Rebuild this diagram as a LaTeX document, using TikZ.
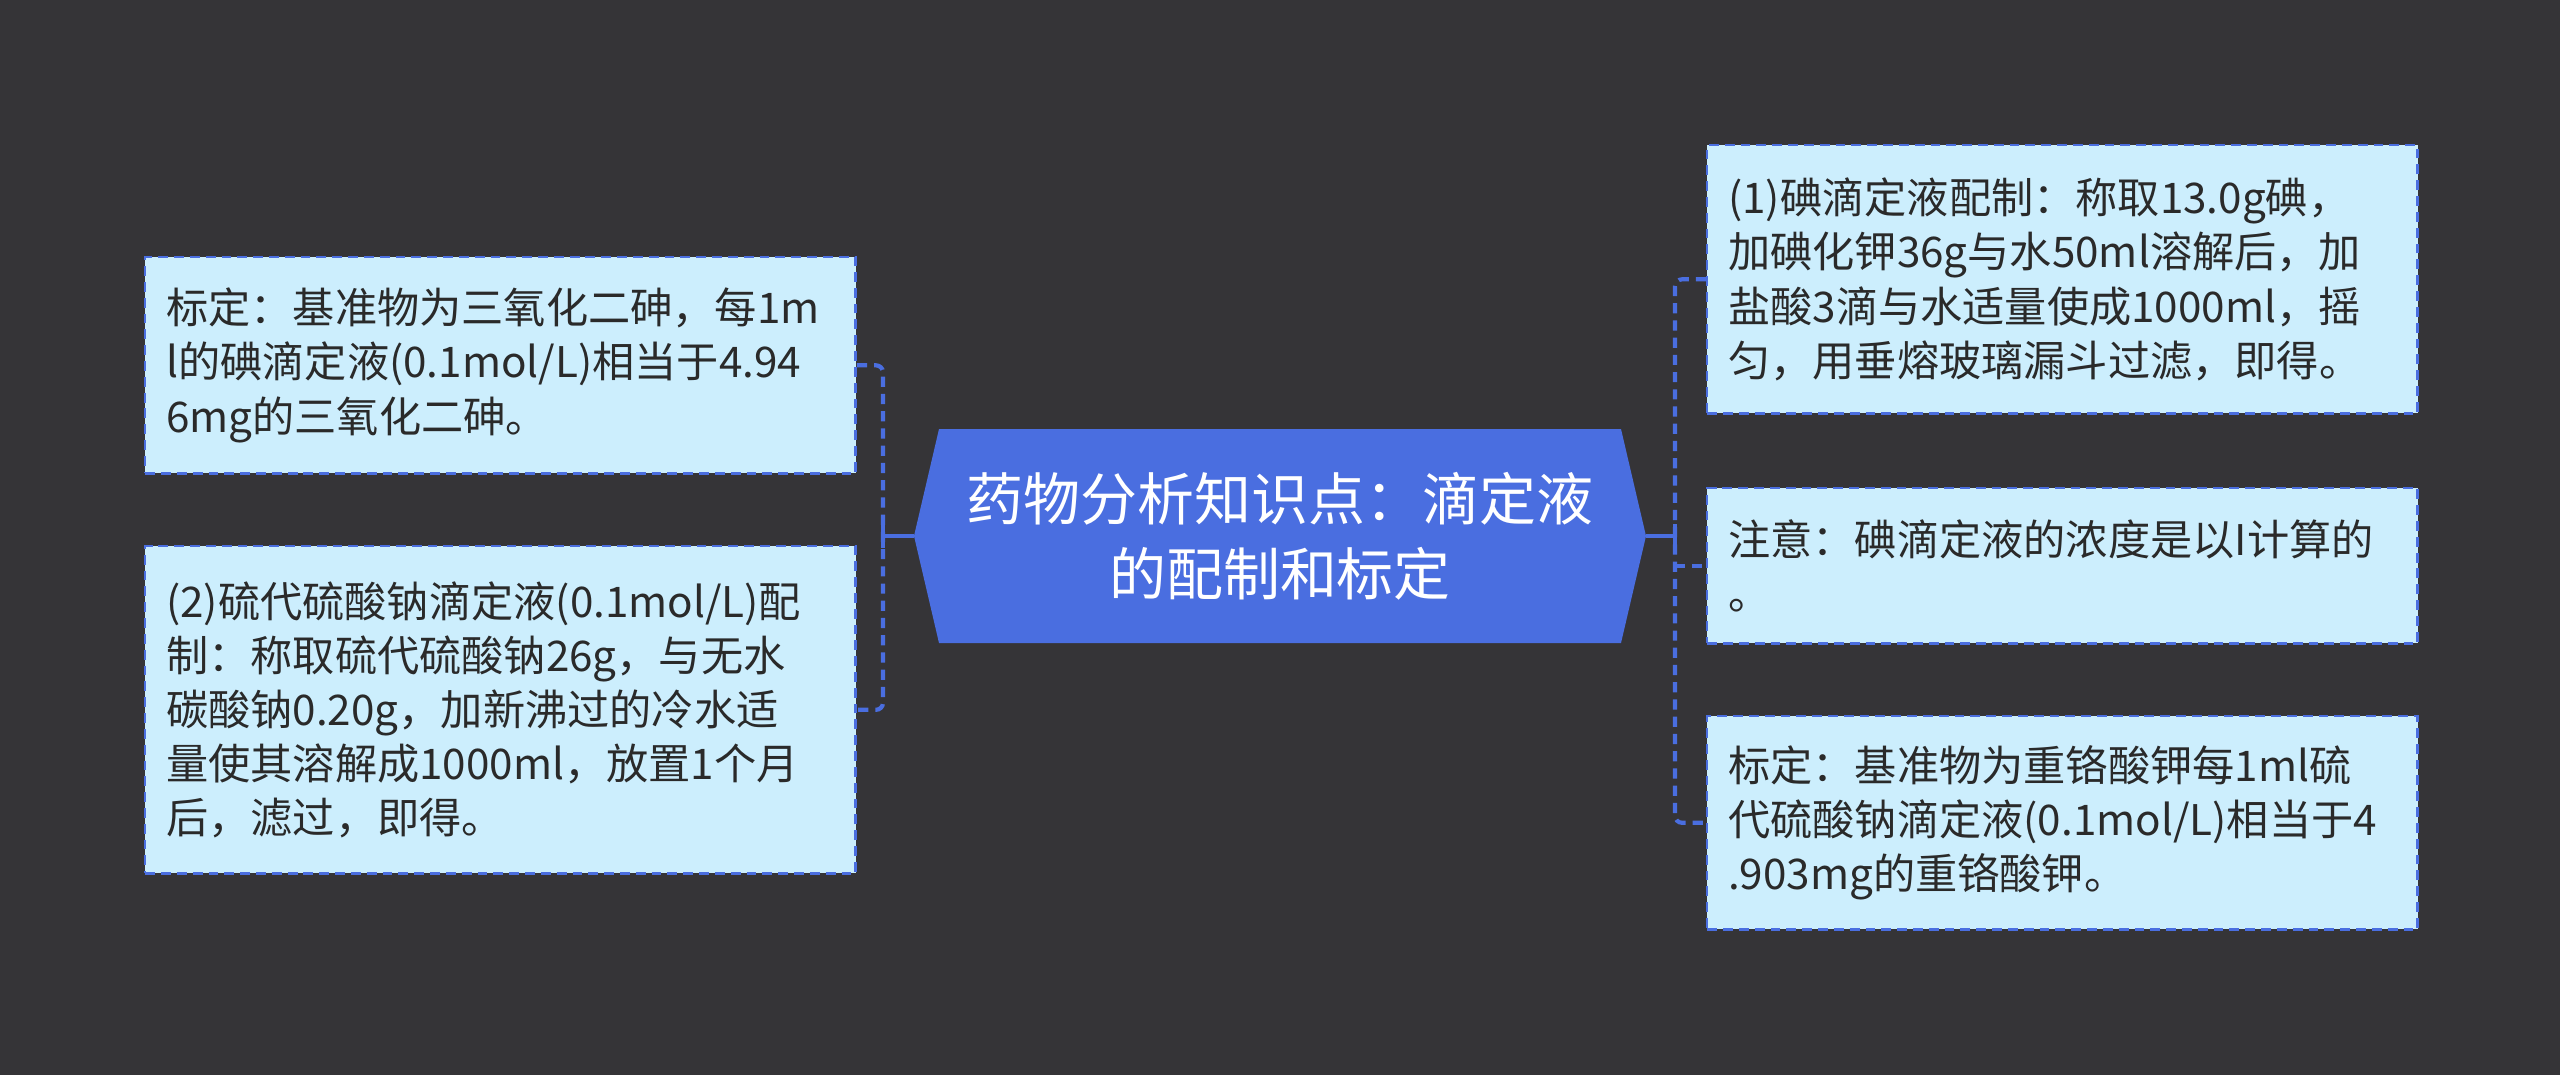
\documentclass[tikz,border=0pt]{standalone}
\usepackage{fontspec}
\setmainfont{Noto Sans CJK SC}
\usetikzlibrary{calc}
\definecolor{bgdark}{HTML}{353437}
\definecolor{hubblue}{HTML}{4A6EE0}
\definecolor{leafcyan}{HTML}{CCEEFD}
\definecolor{leaftext}{HTML}{2A2A2A}
\tikzset{
  leaf/.style={draw=hubblue, fill=leafcyan, dash pattern=on 2.8pt off 1.7pt, line width=0.7pt,
    text=leaftext, font=\fontsize{12pt}{15.4pt}\selectfont, align=left, text width=6.68cm,
    inner xsep=0.21cm, inner ysep=0pt, minimum width=7.1cm, anchor=north west},
  link/.style={draw=hubblue, line width=1.2pt, dash pattern=on 2.9pt off 2pt, rounded corners=2pt},
  stem/.style={draw=hubblue, line width=1.2pt},
}
\begin{document}
\begin{tikzpicture}[x=0.01cm, y=-0.01cm]
\useasboundingbox (0,0) rectangle (2560,1075);
\fill[bgdark] (0,0) rectangle (2560,1075);

\coordinate (rootw) at (914,536);
\coordinate (roote) at (1646,536);
\coordinate (lhub) at (883,536);
\coordinate (rhub) at (1675,536);
\fill[hubblue] (rootw) -- (939,429) -- (1621,429) -- (roote) -- (1621,643) -- (939,643) -- cycle;
\node[text=white, font=\fontsize{16.2pt}{21.3pt}\selectfont, align=center] (root) at (1280,536)
  {药物分析知识点：滴定液\\的配制和标定};

\node[leaf, minimum height=2.16cm] (lb1) at (144,256)
  {标定：基准物为三氧化二砷，每1m\\l的碘滴定液(0.1mol/L)相当于4.94\\6mg的三氧化二砷。};
\node[leaf, minimum height=3.27cm] (lb2) at (144,545)
  {(2)硫代硫酸钠滴定液(0.1mol/L)配\\制：称取硫代硫酸钠26g，与无水\\碳酸钠0.20g，加新沸过的冷水适\\量使其溶解成1000ml，放置1个月\\后，滤过，即得。};

\node[leaf, minimum height=2.68cm] (rb1) at (1706,144)
  {(1)碘滴定液配制：称取13.0g碘，\\加碘化钾36g与水50ml溶解后，加\\盐酸3滴与水适量使成1000ml，摇\\匀，用垂熔玻璃漏斗过滤，即得。};
\node[leaf, minimum height=1.55cm] (rb2) at (1706,487)
  {注意：碘滴定液的浓度是以I计算的\\。};
\node[leaf, minimum height=2.13cm] (rb3) at (1706,715)
  {标定：基准物为重铬酸钾每1ml硫\\代硫酸钠滴定液(0.1mol/L)相当于4\\.903mg的重铬酸钾。};

\draw[stem] (rootw) -- (lhub);
\draw[stem] ($(lhub)+(0,-12)$) -- ($(lhub)+(0,12)$);
\draw[link] (lb1.east) -- (lb1.east -| lhub) -- (lb2.east -| lhub) -- (lb2.east);

\draw[stem] (roote) -- (rhub);
\draw[stem] ($(rhub)+(0,-12)$) -- ($(rhub)+(0,12)$);
\draw[link] (rb1.west) -- (rb1.west -| rhub) -- (rb3.west -| rhub) -- (rb3.west);
\draw[link] (rb2.west -| rhub) -- (rb2.west);
\end{tikzpicture}
\end{document}
